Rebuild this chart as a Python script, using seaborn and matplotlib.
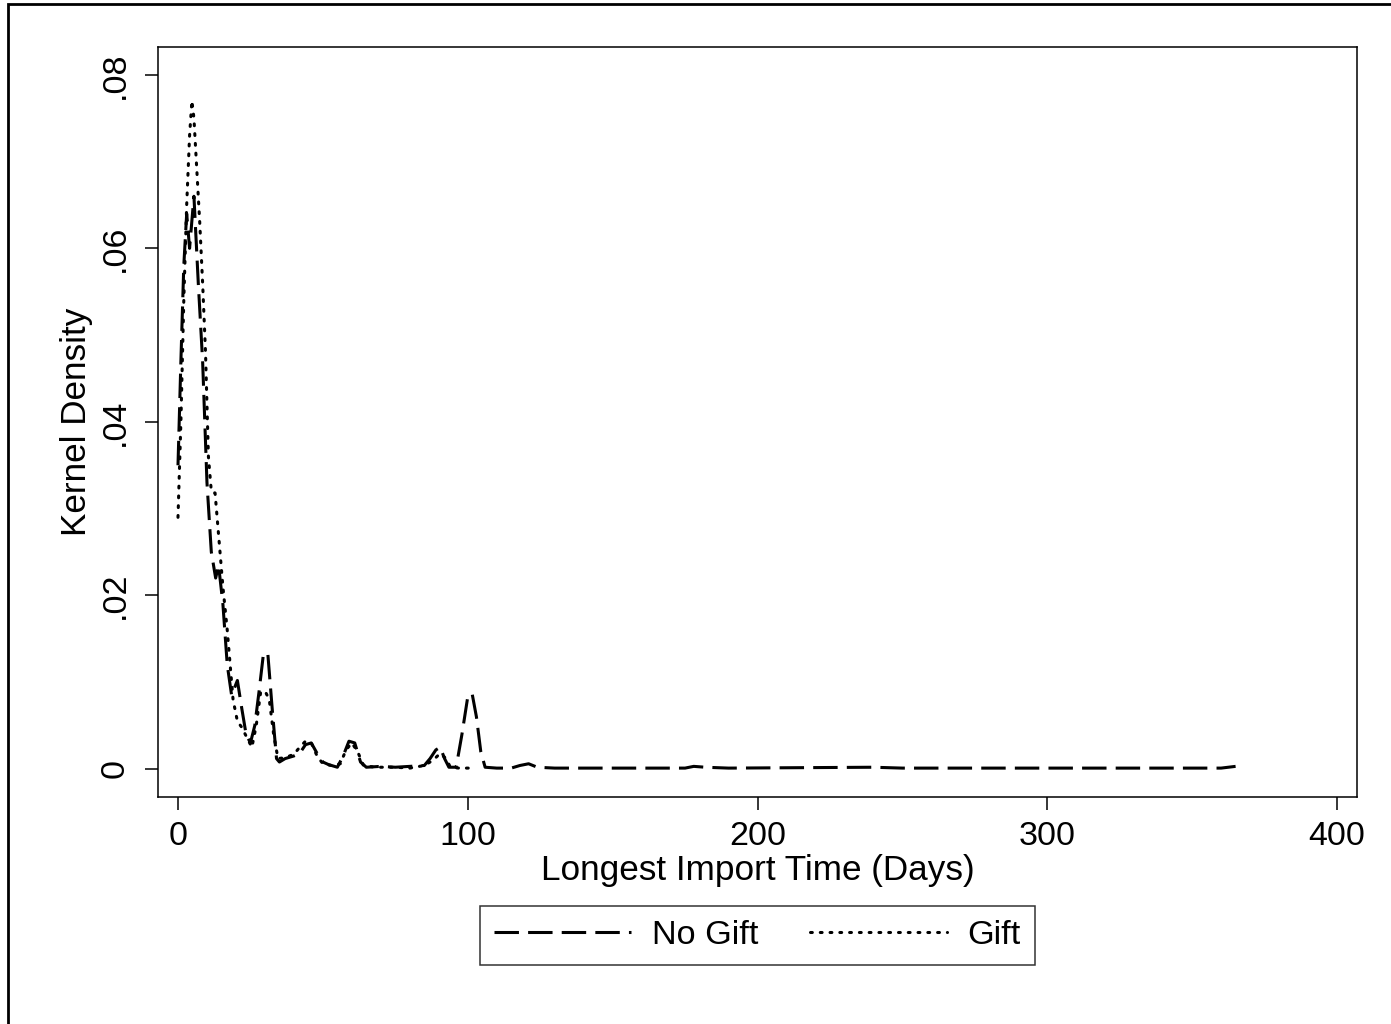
import pandas as pd
import seaborn as sns
import matplotlib.pyplot as plt
from matplotlib.patches import Rectangle

# Curvas de densidade
x_sem_presente = [0, 1, 2, 3, 4, 5.5, 7, 8.5, 10, 11.5, 13, 14, 15.5, 17, 18.5, 20.5, 22,
                  23.5, 25, 26.5, 28, 29.5, 31, 32.5, 34, 35, 37, 40, 42, 44, 46, 48, 50,
                  52, 55, 57, 59, 61, 63, 65, 70, 75, 80, 85, 87, 89, 90.5, 92, 93.5, 96,
                  98, 100, 101.5, 103, 104.5, 106, 110, 115, 118, 121, 124, 130, 145, 160,
                  175, 178, 182, 190, 240, 250, 300, 360, 365]
y_sem_presente = [0.035, 0.047, 0.058, 0.064, 0.060, 0.066, 0.056, 0.047, 0.033, 0.025,
                  0.022, 0.0235, 0.019, 0.012, 0.0085, 0.0102, 0.007, 0.004, 0.003, 0.005,
                  0.009, 0.0133, 0.0133, 0.007, 0.0012, 0.0008, 0.0012, 0.0015, 0.0018,
                  0.0028, 0.003, 0.0018, 0.0008, 0.0005, 0.0002, 0.0015, 0.0032, 0.003,
                  0.0008, 0.0002, 0.0003, 0.0002, 0.0003, 0.0004, 0.0012, 0.0022, 0.0025,
                  0.0012, 0.0002, 0.0002, 0.004, 0.0083, 0.0087, 0.006, 0.002, 0.0002,
                  0.0001, 0.0001, 0.0004, 0.0006, 0.0002, 0.0001, 0.0001, 0.0001, 0.0001,
                  0.0003, 0.0002, 0.0001, 0.0002, 0.0001, 0.0001, 0.0001, 0.0003]

x_presente = [0, 1, 2, 3, 4, 4.8, 5.5, 6.5, 7.5, 8.5, 9.5, 10.5, 11.5, 12.8, 14, 15.5, 17,
              18, 19, 20.5, 22, 23.5, 25.5, 27, 28.5, 30, 31.5, 33, 34.5, 37, 40, 42, 44,
              46, 48, 50, 53, 56, 58, 60, 62, 64, 68, 75, 80, 85, 88, 90.5, 92.5, 94, 97, 101]
y_presente = [0.029, 0.040, 0.054, 0.065, 0.073, 0.077, 0.075, 0.069, 0.063, 0.056, 0.048,
              0.036, 0.032, 0.0318, 0.027, 0.021, 0.016, 0.012, 0.008, 0.0055, 0.0048,
              0.0038, 0.0025, 0.005, 0.0088, 0.009, 0.008, 0.004, 0.0012, 0.0013, 0.0017,
              0.0025, 0.0032, 0.003, 0.0015, 0.0006, 0.0004, 0.0006, 0.0022, 0.003, 0.002,
              0.0004, 0.0002, 0.0002, 0.0001, 0.0004, 0.001, 0.0018, 0.0012, 0.0002,
              0.0001, 0.0001]

x_ticks = [0, 100, 200, 300, 400]
y_ticks = [0, 0.02, 0.04, 0.06, 0.08]
y_tick_labels = ['0', '.02', '.04', '.06', '.08']

dados_sem = pd.DataFrame({'x': x_sem_presente, 'y': y_sem_presente})
dados_com = pd.DataFrame({'x': x_presente, 'y': y_presente})

sns.set_style("ticks")
plt.rcParams['font.family'] = ['Liberation Sans', 'DejaVu Sans']
plt.rcParams['text.color'] = 'black'
plt.rcParams['axes.labelcolor'] = 'black'
plt.rcParams['xtick.color'] = 'black'
plt.rcParams['ytick.color'] = 'black'

fig = plt.figure(figsize=(13.91, 10.24), dpi=100)
ax = fig.add_axes([158 / 1391, 1 - 797 / 1024, (1357 - 158) / 1391, (797 - 47) / 1024])

sns.lineplot(x='x', y='y', data=dados_sem, ax=ax, color='black', linewidth=2.2,
             dashes=(8, 3), label='No Gift', sort=True)
sns.lineplot(x='x', y='y', data=dados_com, ax=ax, color='black', linewidth=2.2,
             linestyle=(0, (0.6, 2.6)), dash_capstyle='round', label='Gift', sort=True)

ax.set_xlim(-6.9, 406.9)
ax.set_ylim(-0.00323, 0.0832)
ax.set_xticks(x_ticks)
ax.set_yticks(y_ticks)
ax.set_yticklabels(y_tick_labels, rotation=90, va='center')
ax.tick_params(axis='both', direction='out', length=9.5, width=1.1, labelsize=24.5,
               colors='black')
ax.tick_params(axis='x', pad=8)
ax.tick_params(axis='y', pad=10)
for s in ax.spines.values():
    s.set_linewidth(1.1)
    s.set_color('black')

ax.set_xlabel('Longest Import Time (Days)', fontsize=25.3, labelpad=1)
ax.set_ylabel('Kernel Density', fontsize=25.3, labelpad=5)

ax.get_legend().remove()
handles, labels = ax.get_legend_handles_labels()
leg = fig.legend(handles, labels, loc='center', bbox_to_anchor=(757.5 / 1391, 1 - 935.5 / 1024),
                 ncol=2, fontsize=24.7, frameon=True, fancybox=False, edgecolor='black',
                 handlelength=4.0, handletextpad=0.6, columnspacing=1.5, borderpad=0.4)
leg.get_frame().set_linewidth(1.1)
for t in leg.get_texts():
    t.set_color('black')

# Moldura externa da figura
fig.patches.append(Rectangle((8 / 1391, -0.01), 1.02, 1 - 4 / 1024 + 0.01, transform=fig.transFigure,
                             fill=False, edgecolor='black', linewidth=2))

plt.savefig('out.png', dpi=100)
